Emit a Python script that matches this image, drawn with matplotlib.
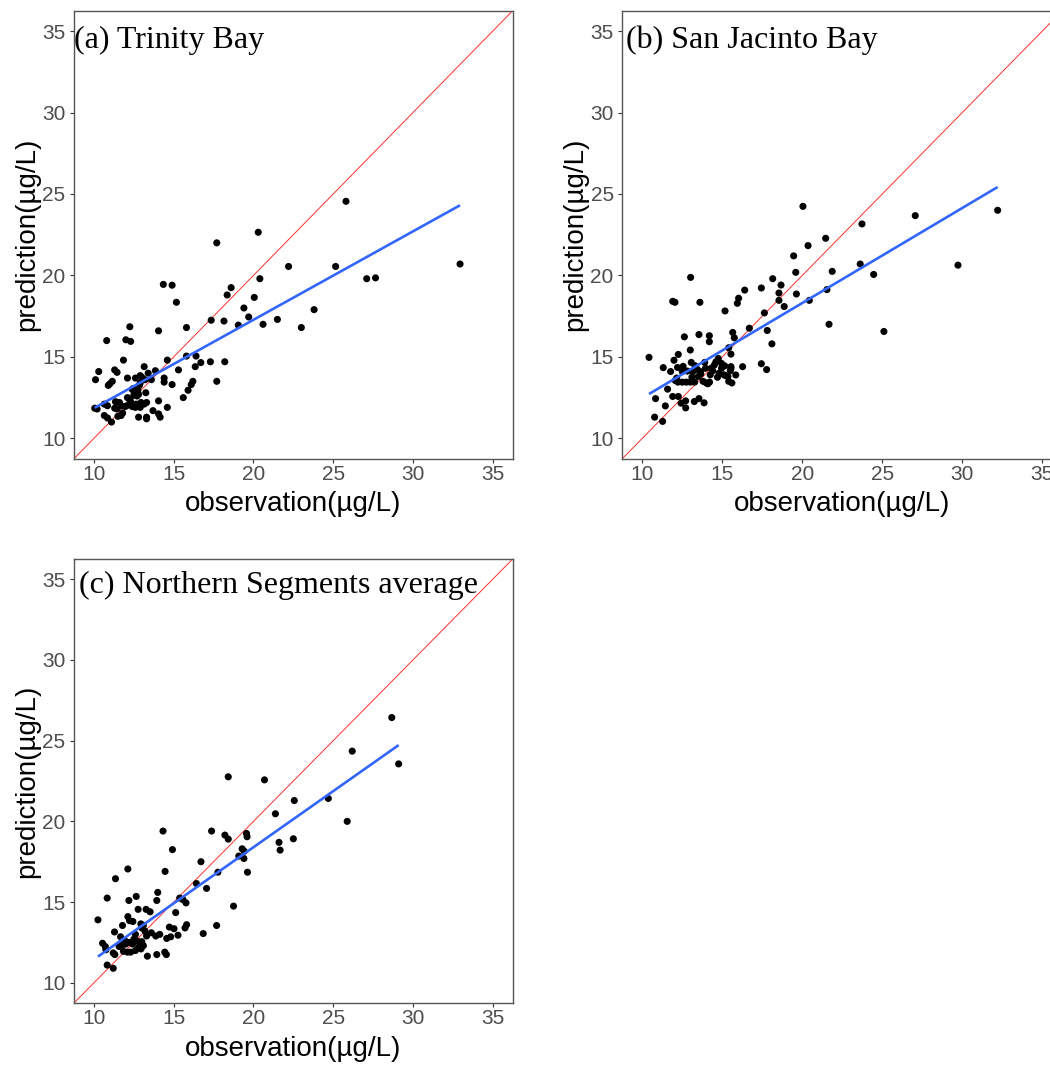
import numpy as np
import matplotlib
matplotlib.use("Agg")
import matplotlib.pyplot as plt

plt.rcParams['font.family'] = ['Liberation Sans', 'DejaVu Sans']

# ---- data: observed vs predicted concentration (µg/L) ----
obs_a = [
    25.8, 20.3, 17.7, 32.95, 22.2, 25.15, 27.1, 27.65, 20.4, 18.6,
    18.35, 20.05, 19.4, 23.8, 19.7, 21.5, 17.35, 18.15, 19.05, 20.6,
    23.0, 14.35, 14.9, 15.17, 12.25, 14.05, 15.8, 10.8, 12.0, 12.3,
    11.85, 14.6, 15.8, 16.4, 16.7, 17.3, 18.2, 16.35, 15.3, 10.3,
    11.3, 11.45, 13.15, 10.1, 12.1, 12.6, 14.4, 14.4, 14.9, 16.1,
    16.2, 17.7, 10.9, 11.0, 11.15, 12.85, 12.9, 12.9, 13.0, 13.4,
    13.2, 13.6, 13.85, 12.4, 13.25, 12.7, 12.8, 12.1, 12.25, 15.6,
    15.9, 10.05, 10.2, 10.65, 10.85, 10.65, 10.85, 11.1, 11.35, 11.3,
    11.45, 11.5, 11.7, 11.8, 11.7, 11.95, 12.05, 12.4, 12.6, 12.65,
    12.8, 12.95, 13.15, 13.3, 13.7, 14.05, 14.05, 14.15, 14.6, 12.45,
    12.75, 12.5, 13.3, 12.3, 12.9, 11.6, 13.3, 12.55,
]
pred_a = [
    24.55, 22.65, 22.0, 20.7, 20.55, 20.55, 19.8, 19.85, 19.8, 19.25,
    18.8, 18.65, 18.0, 17.9, 17.45, 17.3, 17.25, 17.2, 16.95, 17.0,
    16.8, 19.45, 19.4, 18.35, 16.85, 16.6, 16.8, 16.0, 16.05, 15.95,
    14.8, 14.8, 15.05, 15.05, 14.65, 14.7, 14.7, 14.4, 14.2, 14.1,
    14.2, 14.05, 14.4, 13.6, 13.7, 13.7, 13.7, 13.45, 13.3, 13.3,
    13.5, 13.5, 13.25, 13.35, 13.5, 13.25, 13.4, 13.85, 13.75, 14.0,
    13.6, 13.6, 14.15, 13.0, 12.8, 12.6, 12.7, 12.5, 12.35, 12.5,
    12.95, 11.85, 11.8, 12.1, 12.0, 11.4, 11.25, 11.0, 12.25, 11.85,
    11.8, 11.35, 11.4, 11.55, 12.0, 11.95, 12.0, 11.95, 11.9, 12.1,
    11.3, 12.2, 12.1, 11.2, 11.7, 12.3, 11.5, 11.3, 11.9, 13.05,
    12.95, 12.65, 12.2, 12.25, 11.9, 12.2, 11.3, 12.05,
]

obs_b = [
    20.04, 32.21, 27.06, 23.73, 21.46, 20.36, 19.46, 19.59, 21.87, 23.62,
    29.73, 24.46, 13.02, 18.15, 18.67, 17.44, 16.4, 21.54, 18.54, 19.63,
    16.02, 15.94, 18.54, 20.44, 18.87, 11.9, 12.04, 13.6, 15.17, 17.63,
    16.69, 17.81, 21.67, 25.1, 15.65, 15.75, 18.1, 12.63, 13.54, 14.19,
    14.19, 13.0, 12.25, 10.42, 11.98, 15.4, 15.54, 17.44, 17.77, 16.27,
    15.84, 15.54, 15.54, 11.31, 11.77, 10.77, 11.27, 10.83, 11.44, 11.58,
    11.9, 12.25, 12.42, 12.71, 12.71, 13.25, 13.54, 13.86,
    12.2, 12.55, 13.06, 13.29, 13.44, 13.65, 13.9, 13.15, 12.81, 12.5,
    12.06, 12.23, 12.5, 12.75, 13.0, 13.27, 12.15,
    13.5, 13.65, 14.0, 14.1, 14.2, 13.8,
    14.3, 14.4, 14.5, 14.75, 14.6, 14.95, 15.1, 14.8, 14.7, 15.2,
    15.35, 15.4, 15.6, 15.5, 14.95, 15.15, 13.95, 14.25, 13.1,
]
pred_b = [
    24.24, 24.0, 23.67, 23.16, 22.28, 21.83, 21.2, 20.19, 20.25, 20.7,
    20.63, 20.06, 19.88, 19.8, 19.41, 19.23, 19.1, 19.13, 18.92, 18.86,
    18.6, 18.29, 18.47, 18.47, 18.09, 18.41, 18.35, 18.35, 17.82, 17.7,
    16.76, 16.62, 17.0, 16.56, 16.5, 16.17, 15.8, 16.23, 16.37, 16.3,
    15.93, 15.42, 15.15, 14.97, 14.79, 15.56, 15.17, 14.58, 14.22, 14.4,
    13.89, 14.4, 14.3, 14.34, 14.1, 11.3, 11.04, 12.44, 11.99, 13.02,
    12.57, 12.57, 12.16, 12.3, 11.87, 12.26, 12.44, 12.18,
    14.35, 14.42, 14.66, 14.46, 14.23, 14.09, 14.66, 14.09, 14.13, 14.1,
    13.55, 13.45, 13.45, 13.45, 13.45, 13.45, 13.7,
    13.8, 13.95, 13.4, 13.35, 13.45, 13.5,
    14.3, 14.15, 14.5, 14.9, 14.7, 14.3, 13.9, 14.0, 13.75, 13.85,
    13.8, 13.5, 13.4, 14.15, 14.6, 14.45, 14.3, 13.9, 13.75,
]

obs_c = [
    28.67, 26.19, 29.1, 18.42, 20.69, 22.56, 24.69, 21.375, 25.875, 21.6,
    21.67, 22.5,
    14.33, 17.375, 18.21, 18.42, 19.56, 19.6, 14.92, 19.29, 19.42, 19.08,
    19.4, 16.71, 19.625, 17.77, 12.125, 11.35, 14.46, 16.42, 17.06, 14.0,
    10.83, 12.19, 12.65, 13.94, 15.375, 15.58, 15.77, 18.75, 12.77, 13.27,
    13.52, 15.125, 10.25, 12.125, 12.23, 12.44, 12.94, 13.1, 13.0, 11.79,
    11.29, 14.73, 15.02, 15.71, 15.81, 17.69, 16.85, 11.67, 12.6, 13.6,
    13.875, 14.125, 14.56, 14.81, 15.27, 10.54, 10.71, 10.75, 11.31, 11.21,
    11.58, 11.79, 12.0, 12.2, 12.42, 11.85, 12.1, 12.3, 12.6, 12.8,
    12.9, 13.0, 12.95, 13.1, 13.35, 13.94, 14.44, 14.54, 10.83, 11.21,
    12.5, 13.3, 11.95, 13.2, 12.7,
]
pred_c = [
    26.43, 24.35, 23.56, 22.76, 22.57, 21.29, 21.42, 20.47, 20.0, 18.7,
    18.22, 18.92,
    19.4, 19.4, 19.15, 18.9, 19.25, 19.05, 18.25, 18.3, 18.15, 17.85,
    17.7, 17.5, 16.85, 16.85, 17.05, 16.45, 16.9, 16.15, 15.85, 15.6,
    15.25, 15.1, 15.35, 15.1, 15.25, 15.15, 14.95, 14.75, 14.55, 14.55,
    14.4, 14.35, 13.9, 14.1, 13.85, 13.8, 13.65, 13.55, 13.4, 13.55,
    13.15, 13.45, 13.35, 13.4, 13.6, 13.55, 13.05, 12.85, 13.0, 13.1,
    12.9, 13.0, 12.75, 12.85, 12.95, 12.45, 12.25, 12.05, 11.75, 11.85,
    12.25, 12.35, 12.4, 12.5, 12.4, 11.95, 11.9, 11.9, 12.0, 12.2,
    12.4, 12.55, 12.1, 12.3, 11.65, 11.75, 11.9, 11.75, 11.1, 10.9,
    12.7, 12.9, 12.6, 13.2, 12.6,
]

titles = ["(a) Trinity Bay", "(b) San Jacinto Bay", "(c) Northern Segments average"]
ticks = [10, 15, 20, 25, 30, 35]
lims = (8.75, 36.25)

W, H = 1050, 1069
fig = plt.figure(figsize=(W / 100, H / 100), dpi=100)

# axes boxes in pixels: left, top, right, bottom
boxes = [
    (74, 10.7, 512.7, 458.7),
    (622.3, 10.7, 1062.3, 458.7),
    (74, 559, 512.7, 1003),
]
title_pos = [(8.72, 33.95), (8.96, 33.95), (9.08, 34.15)]

panels = [(obs_a, pred_a), (obs_b, pred_b), (obs_c, pred_c)]

for (obs, pred), (l, t, r, b), title, tp in zip(panels, boxes, titles, title_pos):
    ax = fig.add_axes([l / W, 1 - b / H, (r - l) / W, (b - t) / H])
    x = np.asarray(obs)
    y = np.asarray(pred)

    # 1:1 reference line
    ax.plot(lims, lims, color='#ff3030', lw=0.7, zorder=2)
    # points
    ax.scatter(x, y, s=26, color='black', edgecolors='none', zorder=3)
    # least-squares fit over the observed range
    k, c0 = np.polyfit(x, y, 1)
    xs = np.array([x.min(), x.max()])
    ax.plot(xs, k * xs + c0, color='#3366FF', lw=1.9, zorder=4,
            solid_capstyle='butt')

    ax.set_xlim(lims)
    ax.set_ylim(lims)
    ax.set_xticks(ticks)
    ax.set_yticks(ticks)
    ax.tick_params(axis='both', direction='out', length=3.2, width=0.8,
                   color='#333333', labelcolor='#4D4D4D', labelsize=15)
    ax.tick_params(axis='x', pad=1.2)
    ax.tick_params(axis='y', pad=3)
    for sp in ax.spines.values():
        sp.set_color('#555555')
        sp.set_linewidth(1.0)
    ax.set_xlabel('observation(µg/L)', fontsize=20, color='black', labelpad=5.5)
    ax.set_ylabel('prediction(µg/L)', fontsize=20, color='black', labelpad=1.5)

    ax.text(tp[0], tp[1], title, family=['Liberation Serif', 'DejaVu Serif'],
            fontsize=23, color='black', ha='left', va='baseline', zorder=5)

fig.savefig('out.png', dpi=100)
